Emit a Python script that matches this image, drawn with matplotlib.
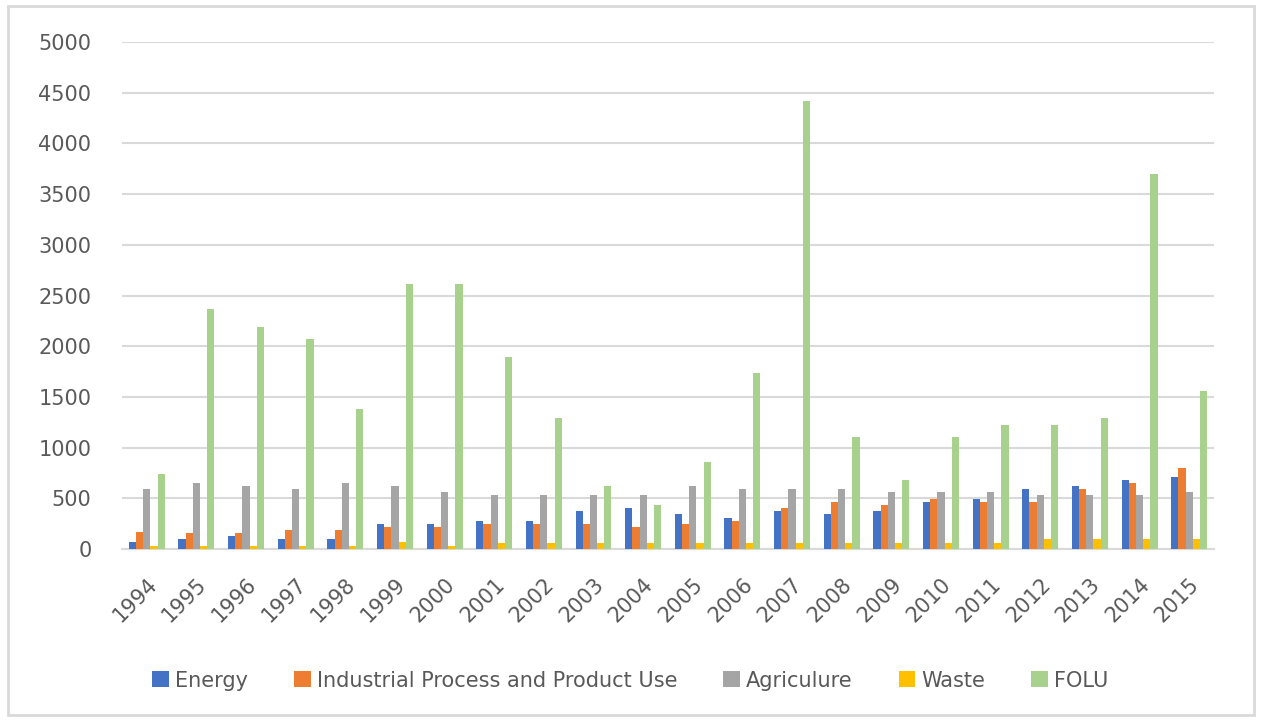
import matplotlib
matplotlib.use('Agg')
import matplotlib.pyplot as plt
import numpy as np
from matplotlib.patches import Rectangle

years = [str(y) for y in range(1994, 2016)]
energy = [70, 100, 130, 100, 100, 250, 250, 280, 280, 370, 400, 340, 310, 370,
          340, 370, 460, 490, 590, 620, 680, 710]
industrial = [170, 160, 160, 190, 190, 220, 220, 250, 250, 250, 220, 250, 280, 400,
              460, 430, 490, 460, 460, 590, 650, 800]
agriculture = [590, 650, 620, 590, 650, 620, 560, 530, 530, 530, 530, 620, 590, 590,
               590, 560, 560, 560, 530, 530, 530, 560]
waste = [30, 30, 30, 30, 30, 70, 30, 60, 60, 60, 60, 60, 60, 60,
         60, 60, 60, 60, 100, 100, 100, 100]
folu = [740, 2370, 2190, 2070, 1380, 2610, 2610, 1890, 1290, 620, 430, 860, 1740, 4420,
        1100, 680, 1100, 1220, 1220, 1290, 3700, 1560]

series = [energy, industrial, agriculture, waste, folu]
names = ['Energy', 'Industrial Process and Product Use', 'Agriculure', 'Waste', 'FOLU']
colors = ['#4472C4', '#ED7D31', '#A5A5A5', '#FFC000', '#A9D18E']

fig = plt.figure(figsize=(12.61, 7.21), dpi=100)
ax = fig.add_axes([0.0967, 0.2386, 0.866, 0.7031])

x = np.arange(len(years))
w = 0.145
for i, (vals, name, c) in enumerate(zip(series, names, colors)):
    ax.bar(x + (i - 2) * w, vals, width=w, color=c, label=name, zorder=3)

ax.set_ylim(0, 5000)
ax.set_yticks(range(0, 5001, 500))
ax.set_xlim(-0.5, len(years) - 0.5)
ax.set_xticks(x)
ax.set_xticklabels(years, rotation=45, ha='right', va='top', rotation_mode='anchor')
ax.grid(axis='y', color='#d9d9d9', linewidth=1.5, zorder=0)
for s in ['top', 'right', 'left']:
    ax.spines[s].set_visible(False)
ax.spines['bottom'].set_color('#d9d9d9')
ax.spines['bottom'].set_linewidth(1.5)
ax.tick_params(axis='y', length=0, pad=22, labelsize=15, labelcolor='#595959')
ax.tick_params(axis='x', length=0, pad=18, labelsize=15, labelcolor='#595959')

fig.legend(loc='center', bbox_to_anchor=(0.5, 0.056), ncol=5, frameon=False,
           fontsize=15, labelcolor='#595959', handlelength=0.8, handleheight=0.8,
           handletextpad=0.3, columnspacing=2.2)

fig.patches.append(Rectangle((8 / 1261, 6 / 721), 1246 / 1261, 709 / 721,
                             transform=fig.transFigure, fill=False,
                             edgecolor='#d9d9d9', linewidth=2))

fig.savefig('out.png', dpi=100)
